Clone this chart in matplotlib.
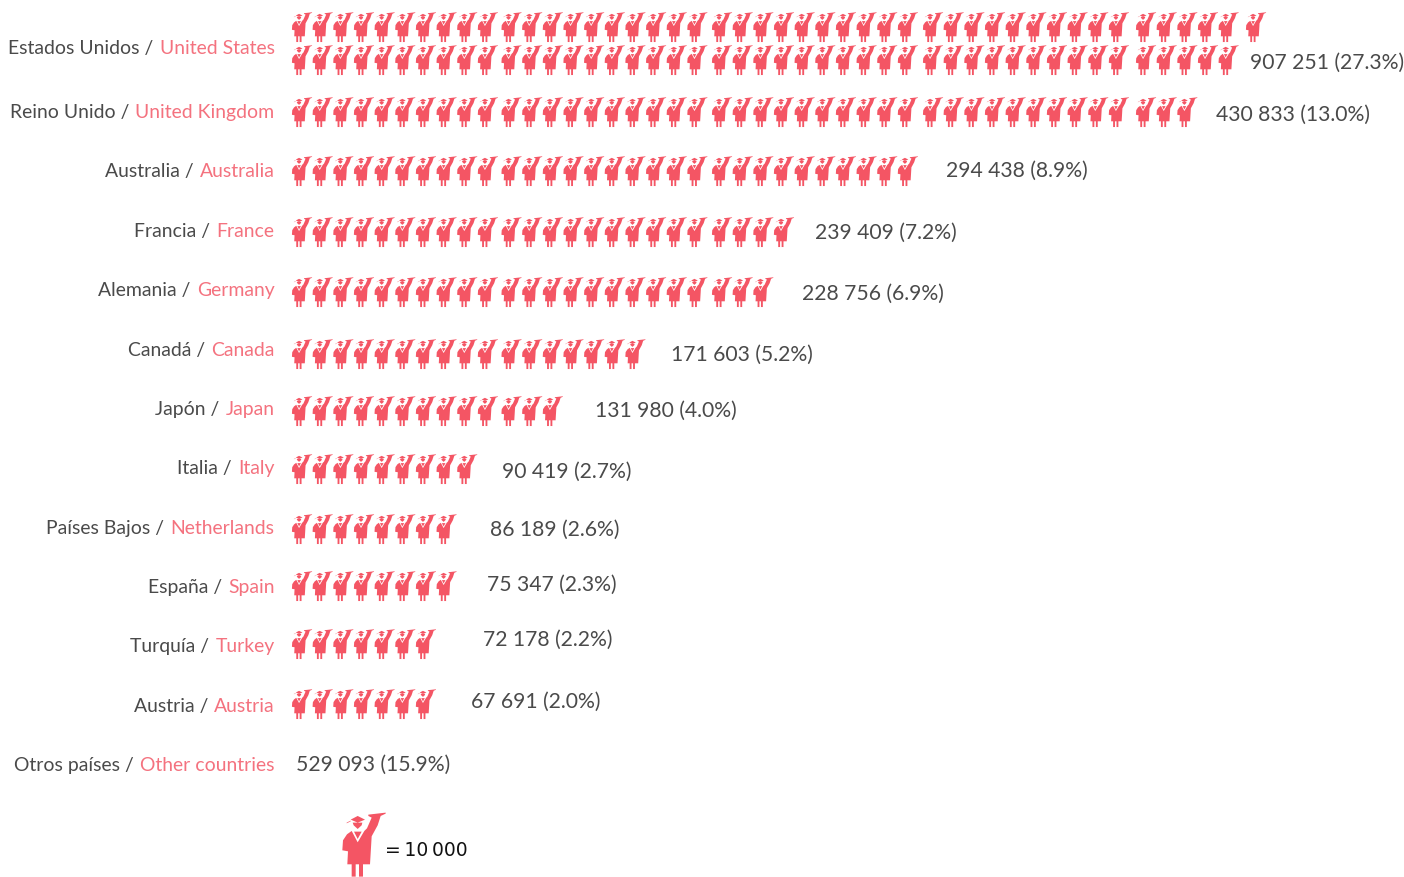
import matplotlib
matplotlib.use("Agg")
import matplotlib.pyplot as plt
import matplotlib.collections
import matplotlib.transforms
from matplotlib.path import Path
import numpy as np

spanish = ["Estados Unidos", "Reino Unido", "Australia", "Francia", "Alemania", "Canadá", "Japón",
           "Italia", "Países Bajos", "España", "Turquía", "Austria", "Otros países"]
english = ["United States", "United Kingdom", "Australia", "France", "Germany", "Canada", "Japan",
           "Italy", "Netherlands", "Spain", "Turkey", "Austria", "Other countries"]
values = ["907 251", "430 833", "294 438", "239 409", "228 756", "171 603", "131 980",
          "90 419", "86 189", "75 347", "72 178", "67 691", "529 093"]
shares = ["27.3%", "13.0%", "8.9%", "7.2%", "6.9%", "5.2%", "4.0%", "2.7%", "2.6%", "2.3%", "2.2%", "2.0%", "15.9%"]
icons = [91, 43, 30, 24, 23, 17, 13, 9, 8, 8, 7, 7, 0]
legend_text = "=\u200910\u2009000"

# layout (pixels)
label_y = [47, 111, 170, 230, 289, 349, 408, 467, 527, 586, 645, 705, 764]
icon_y = [28, 113, 172, 233, 293, 355, 412, 470, 530, 587, 645, 705, 764]
value_x = [1250, 1216, 946, 815, 802, 671, 595, 502, 490, 487, 483, 471, 296]
value_y = [61, 113, 169, 231, 292, 353, 409, 470, 528, 583, 638, 700, 763]
group_x = [302, 511.5, 722, 933, 1146]

RED = "#f45564"
PINK = "#f4727f"
GREY = "#4a4a4a"
FONT = "Lato"

# icon shapes, traced on the large legend figure at 3x
shapes = [
    [(22, 130), (24, 100), (36, 82), (50, 72), (68, 106), (88, 72), (96, 64), (110, 32), (100, 27), (100, 23),
     (152, 17), (152, 20), (137, 27), (128, 55), (110, 88), (105, 172), (84, 172), (84, 209), (72, 209),
     (72, 172), (62, 172), (62, 209), (50, 209), (50, 172), (37, 172), (39, 133)],
    [(57, 74), (80, 74), (68, 96)],
    [(47, 38), (68, 27), (90, 38), (68, 47)],
    [(53, 47), (82, 47), (80, 55), (68, 66), (56, 55)],
    [(35, 47), (47, 41), (47, 43), (35, 49)],
]

def make_path(scale):
    verts, codes = [], []
    for poly in shapes:
        pts = [((x - 87) / 3 * scale, (y - 112) / 3 * scale) for x, y in poly]
        verts += pts + [pts[0]]
        codes += [Path.MOVETO] + [Path.LINETO] * (len(pts) - 1) + [Path.CLOSEPOLY]
    return Path(np.array(verts, float), codes)

W, H = 1404, 878
fig = plt.figure(figsize=(W / 100, H / 100), dpi=100, facecolor="white")
ax = fig.add_axes([0, 0, 1, 1])
ax.set_xlim(0, W)
ax.set_ylim(H, 0)
ax.axis("off")

PITCH = 20.65
SMALL = 0.465

def slot_x(i):
    return group_x[i // 10] + (i % 10) * PITCH

xs, ys = [], []
def add_row(n, y):
    for i in range(n):
        xs.append(slot_x(i))
        ys.append(y)

for k, n in enumerate(icons):
    if k == 0:
        # first row: 45 slots plus one set apart, second row: 45 slots
        add_row(45, 28)
        xs.append(1256)
        ys.append(28)
        add_row(n - 46, 61)
    else:
        add_row(n, icon_y[k])

def draw_icons(x, y, scale):
    ax.add_collection(matplotlib.collections.PathCollection(
        [make_path(scale)], offsets=np.column_stack([x, y]), offset_transform=ax.transData,
        transform=matplotlib.transforms.Affine2D().scale(1, -1), facecolors=RED, edgecolors="none"))

draw_icons(xs, ys, SMALL)
draw_icons([364], [845.3], 1.0)

fig.canvas.draw()
rend = fig.canvas.get_renderer()
inv = ax.transData.inverted()
FS = 13.95
for k in range(13):
    t = ax.text(274.5, label_y[k], english[k], color=PINK, fontsize=FS, family=FONT,
                ha="right", va="center_baseline")
    bb = t.get_window_extent(rend)
    left = inv.transform((bb.x0, 0))[0]
    ax.text(left - 1, label_y[k], spanish[k] + " / ", color=GREY, fontsize=FS, family=FONT,
            ha="right", va="center_baseline")
    ax.text(value_x[k], value_y[k], f"{values[k]} ({shares[k]})", color=GREY, fontsize=15.2, family=FONT,
            ha="left", va="center_baseline")

ax.text(385, 849, legend_text, fontsize=13.5, color="#111111", family="DejaVu Sans", ha="left", va="center_baseline")
fig.savefig("out.png", dpi=100)
